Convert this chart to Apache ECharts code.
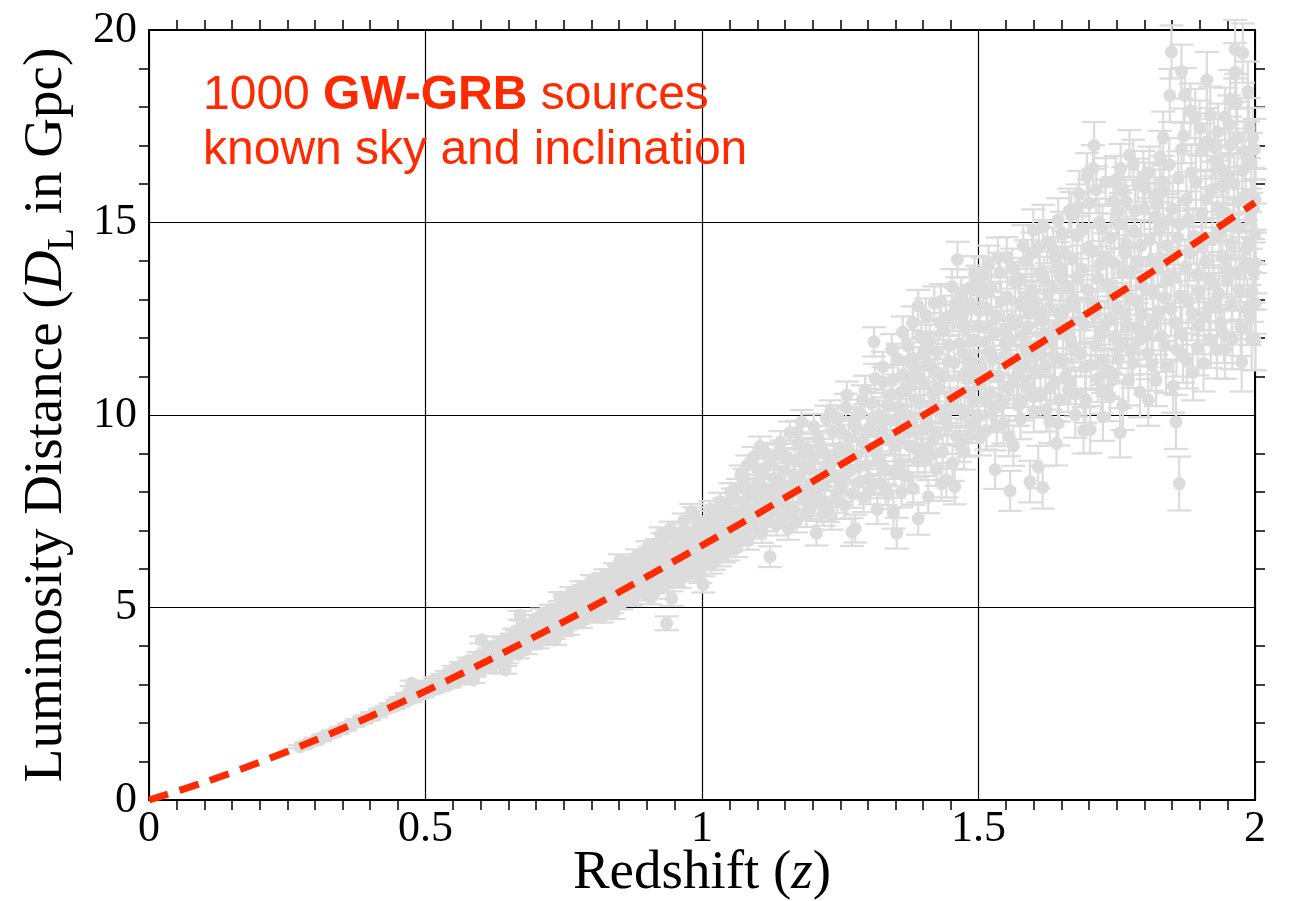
<!DOCTYPE html>
<html><head><meta charset="utf-8">
<script src="https://cdn.jsdelivr.net/npm/echarts@6/dist/echarts.min.js"></script>
<style>html,body{margin:0;padding:0;background:#fff}#c{width:1290px;height:901px}</style>
</head><body><div id="c"></div>
<script>
// ---- Tick labels ----
const xTickLabels = ['0', '0.5', '1', '1.5', '2'];
const yTickLabels = ['0', '5', '10', '15', '20'];

// ---- Fiducial luminosity-distance curve ----
const curveZ = [0, 0.1, 0.2, 0.3, 0.4, 0.5, 0.6, 0.7, 0.8, 0.9, 1.0, 1.1, 1.2, 1.3, 1.4, 1.5, 1.6, 1.7, 1.8, 1.9, 2.0];
const curveD = [0, 0.46, 0.98, 1.55, 2.17, 2.83, 3.53, 4.26, 5.01, 5.80, 6.61, 7.43, 8.27, 9.13, 9.99, 10.87, 11.76, 12.67, 13.59, 14.55, 15.52];

// ---- Simulated GW-GRB sources: [z, D_L (Gpc), 1-sigma error (Gpc)] ----
const sourcesA = [[0.273,1.38,0.04],[0.284,1.45,0.04],[0.291,1.47,0.04],[0.302,1.58,0.04],[0.309,1.57,0.04],[0.318,1.66,0.05],[0.326,1.70,0.04],[0.333,1.76,0.05],[0.341,1.77,0.05],[0.348,1.85,0.05],[0.355,1.86,0.05],[0.362,1.95,0.05],[0.369,1.96,0.05],[0.377,2.05,0.05],[0.384,2.04,0.05],[0.391,2.14,0.05],[0.398,2.13,0.06],[0.404,2.22,0.06],[0.411,2.21,0.06],[0.418,2.31,0.06],[0.425,2.34,0.06],[0.431,2.37,0.06],[0.437,2.45,0.06],[0.443,2.43,0.06],[0.449,2.55,0.06]];
const sourcesB = [[0.452,2.49,0.06],[0.458,2.60,0.06],[0.463,2.57,0.06],[0.468,2.66,0.06],[0.475,3.03,0.07],[0.478,2.68,0.06],[0.483,2.78,0.06],[0.487,2.70,0.06],[0.492,2.86,0.07],[0.497,2.80,0.07],[0.502,2.92,0.07],[0.506,2.82,0.07],[0.511,2.95,0.07],[0.515,2.88,0.07],[0.519,3.05,0.07],[0.524,2.97,0.07],[0.528,3.10,0.07],[0.533,3.02,0.07],[0.537,3.16,0.07],[0.541,3.05,0.07],[0.546,3.25,0.08],[0.550,3.12,0.08],[0.554,3.30,0.08],[0.559,3.18,0.08],[0.563,3.36,0.08],[0.567,3.24,0.08],[0.571,3.44,0.08],[0.576,3.30,0.08],[0.580,3.50,0.08],[0.584,3.36,0.08],[0.587,3.12,0.08],[0.591,3.58,0.08],[0.594,3.42,0.08],[0.598,3.66,0.09],[0.599,3.48,0.09]];
const sourcesC = [[0.601,4.16,0.09],[0.603,3.40,0.09],[0.606,3.62,0.09],[0.609,3.75,0.09],[0.612,3.52,0.09],[0.615,3.85,0.09],[0.618,3.60,0.09],[0.621,3.70,0.09],[0.624,3.95,0.09],[0.627,3.58,0.09],[0.630,3.82,0.10],[0.633,4.02,0.10],[0.636,3.70,0.10],[0.639,3.90,0.10],[0.642,4.10,0.10],[0.644,3.38,0.10],[0.647,3.80,0.10],[0.650,4.05,0.10],[0.653,3.92,0.10],[0.656,4.22,0.10],[0.659,3.85,0.10],[0.662,4.08,0.10],[0.665,4.30,0.10],[0.668,3.95,0.10],[0.671,4.80,0.11],[0.673,4.18,0.11],[0.676,4.40,0.11],[0.679,4.02,0.11],[0.682,4.28,0.11],[0.685,4.52,0.11],[0.688,4.12,0.11],[0.691,4.35,0.11],[0.694,4.60,0.11],[0.697,4.22,0.11],[0.700,4.45,0.11],[0.703,4.05,0.11],[0.706,4.68,0.12],[0.709,4.32,0.12],[0.712,4.55,0.12],[0.716,4.20,0.12],[0.720,4.75,0.12],[0.724,4.42,0.12],[0.728,4.62,0.12],[0.732,4.30,0.12],[0.736,4.85,0.12],[0.740,4.50,0.12],[0.744,4.70,0.12],[0.748,4.38,0.12]];
const sourcesD = [[0.743,5.28,0.12],[0.751,4.95,0.12],[0.754,4.55,0.12],[0.757,4.78,0.13],[0.760,5.10,0.13],[0.763,4.62,0.13],[0.766,4.88,0.13],[0.769,5.22,0.13],[0.772,4.70,0.13],[0.775,4.95,0.13],[0.778,5.35,0.13],[0.781,4.60,0.13],[0.784,5.05,0.13],[0.787,5.45,0.13],[0.790,4.82,0.13],[0.793,5.18,0.14],[0.796,5.55,0.14],[0.799,4.92,0.14],[0.803,4.76,0.14],[0.806,5.30,0.14],[0.809,5.62,0.14],[0.812,5.02,0.14],[0.815,5.40,0.14],[0.818,4.95,0.14],[0.821,5.75,0.14],[0.824,5.15,0.14],[0.827,5.50,0.15],[0.830,5.05,0.15],[0.833,5.85,0.15],[0.836,5.28,0.15],[0.840,4.85,0.15],[0.843,5.62,0.15],[0.846,5.20,0.15],[0.849,5.95,0.15],[0.852,6.23,0.15],[0.855,5.40,0.15],[0.858,5.72,0.15],[0.861,6.03,0.16],[0.864,5.30,0.16],[0.867,5.85,0.16],[0.870,5.52,0.16],[0.873,6.10,0.16],[0.876,5.25,0.16],[0.879,5.68,0.16],[0.882,5.95,0.16],[0.885,5.45,0.16],[0.888,6.22,0.16],[0.891,5.60,0.17],[0.894,5.88,0.17],[0.897,5.35,0.17]];
const sourcesE = [[0.900,6.05,0.17],[0.903,5.55,0.17],[0.906,6.40,0.17],[0.909,5.82,0.17],[0.912,6.15,0.17],[0.915,5.40,0.17],[0.918,6.60,0.18],[0.921,5.95,0.18],[0.924,6.30,0.18],[0.927,5.68,0.18],[0.930,6.75,0.18],[0.933,6.08,0.18],[0.936,4.59,0.18],[0.939,6.45,0.18],[0.942,5.85,0.18],[0.945,5.23,0.19],[0.948,6.22,0.19],[0.951,6.85,0.19],[0.954,5.98,0.19],[0.957,6.55,0.19],[0.960,5.70,0.19],[0.963,6.35,0.19],[0.966,7.00,0.19],[0.969,6.12,0.20],[0.972,6.70,0.20],[0.975,5.88,0.20],[0.978,6.48,0.20],[0.981,7.49,0.20],[0.984,6.25,0.20],[0.987,6.90,0.20],[0.990,6.02,0.20],[0.993,7.15,0.21],[0.996,6.60,0.21],[0.999,6.20,0.21],[1.002,5.60,0.21],[1.005,6.95,0.21],[1.008,6.38,0.21],[1.011,7.30,0.21],[1.014,6.75,0.22],[1.017,6.10,0.22],[1.020,7.05,0.22],[1.023,6.50,0.22],[1.026,7.45,0.22],[1.029,6.85,0.22],[1.032,6.30,0.23],[1.035,7.20,0.23],[1.038,6.62,0.23],[1.041,7.60,0.23],[1.044,7.00,0.23],[1.047,6.45,0.23]];
const sourcesF = [[1.050,7.35,0.23],[1.053,6.70,0.24],[1.056,7.85,0.24],[1.059,7.10,0.24],[1.062,6.55,0.24],[1.065,8.10,0.24],[1.068,7.45,0.24],[1.071,6.88,0.25],[1.074,7.75,0.25],[1.077,8.35,0.25],[1.080,7.20,0.25],[1.083,6.75,0.25],[1.086,7.95,0.25],[1.089,7.40,0.26],[1.093,8.91,0.26],[1.096,7.05,0.26],[1.099,8.20,0.26],[1.102,7.60,0.26],[1.105,9.18,0.26],[1.108,6.95,0.27],[1.111,8.45,0.27],[1.114,7.80,0.27],[1.117,7.25,0.27],[1.120,8.70,0.27],[1.123,6.32,0.27],[1.126,8.05,0.28],[1.129,7.50,0.28],[1.132,8.95,0.28],[1.135,7.15,0.28],[1.138,8.30,0.28],[1.141,7.70,0.28],[1.144,9.05,0.29],[1.147,7.35,0.29],[1.150,8.55,0.29],[1.153,7.95,0.29],[1.156,7.05,0.29],[1.159,9.54,0.29],[1.162,8.20,0.30],[1.165,7.60,0.30],[1.168,8.80,0.30],[1.171,7.25,0.30],[1.174,9.25,0.30],[1.177,8.40,0.30],[1.180,9.82,0.31],[1.183,7.80,0.31],[1.186,8.65,0.31],[1.189,7.40,0.31],[1.192,9.10,0.31],[1.195,8.15,0.31],[1.198,7.62,0.32]];
const sourcesG = [[1.201,8.90,0.32],[1.204,7.95,0.32],[1.207,6.93,0.32],[1.210,9.40,0.32],[1.213,8.45,0.32],[1.216,7.70,0.33],[1.219,9.05,0.33],[1.222,8.20,0.33],[1.225,9.91,0.33],[1.228,7.55,0.33],[1.231,8.75,0.33],[1.234,7.36,0.34],[1.237,9.55,0.34],[1.240,8.40,0.34],[1.243,7.95,0.34],[1.246,9.91,0.34],[1.249,9.15,0.34],[1.252,8.10,0.35],[1.255,8.85,0.35],[1.258,7.65,0.35],[1.262,10.52,0.35],[1.265,9.40,0.35],[1.268,8.55,0.35],[1.271,6.96,0.36],[1.274,9.85,0.36],[1.277,7.05,0.36],[1.280,8.95,0.36],[1.283,8.25,0.36],[1.286,10.04,0.36],[1.289,9.30,0.37],[1.292,7.85,0.37],[1.295,10.65,0.37],[1.298,8.70,0.37],[1.301,9.65,0.37],[1.304,8.05,0.37],[1.307,10.30,0.38],[1.311,11.90,0.38],[1.314,9.05,0.38],[1.317,7.55,0.38],[1.320,10.00,0.38],[1.322,8.22,0.38],[1.325,9.45,0.39],[1.328,10.85,0.39],[1.331,8.60,0.39],[1.334,9.90,0.39],[1.337,7.95,0.39],[1.340,10.50,0.39],[1.343,11.70,0.40],[1.346,7.45,0.40],[1.349,9.20,0.40]];
const sourcesH = [[1.352,6.93,0.40],[1.355,10.20,0.40],[1.358,8.75,0.40],[1.361,8.00,0.40],[1.364,11.05,0.41],[1.367,9.55,0.41],[1.370,10.65,0.41],[1.373,8.40,0.41],[1.376,11.35,0.41],[1.379,9.85,0.41],[1.382,8.09,0.42],[1.382,11.47,0.42],[1.385,10.40,0.42],[1.388,9.10,0.42],[1.391,12.83,0.42],[1.391,7.31,0.42],[1.394,10.95,0.43],[1.397,9.60,0.43],[1.400,11.60,0.43],[1.403,8.85,0.43],[1.406,11.69,0.43],[1.409,7.88,0.43],[1.412,11.90,0.44],[1.415,10.25,0.44],[1.418,9.35,0.44],[1.421,11.15,0.44],[1.424,8.60,0.44],[1.427,10.70,0.44],[1.430,12.40,0.45],[1.433,8.22,0.45],[1.436,12.20,0.45],[1.439,9.90,0.45],[1.442,8.31,0.45],[1.445,11.40,0.45],[1.448,10.50,0.46],[1.452,13.33,0.46],[1.454,12.64,0.46],[1.457,8.14,0.46],[1.460,9.45,0.46],[1.462,14.04,0.46],[1.465,11.85,0.47],[1.468,10.15,0.47],[1.471,12.55,0.47],[1.474,9.05,0.47],[1.477,11.10,0.47],[1.479,12.80,0.47],[1.482,10.60,0.48],[1.485,13.30,0.48],[1.488,9.75,0.48],[1.491,11.95,0.48],[1.494,10.95,0.48],[1.497,13.40,0.48]];
const sourcesI = [[1.500,12.30,0.49],[1.503,13.33,0.49],[1.503,9.44,0.49],[1.506,11.20,0.49],[1.509,13.16,0.49],[1.512,10.40,0.49],[1.515,12.75,0.50],[1.518,13.90,0.50],[1.521,11.65,0.50],[1.524,10.05,0.50],[1.527,12.10,0.50],[1.530,8.58,0.50],[1.533,9.70,0.51],[1.535,14.10,0.51],[1.538,11.00,0.51],[1.541,12.95,0.51],[1.545,9.77,0.51],[1.548,11.85,0.51],[1.551,14.10,0.52],[1.554,10.70,0.52],[1.557,8.03,0.52],[1.560,12.50,0.52],[1.563,9.20,0.52],[1.566,13.45,0.52],[1.569,11.30,0.53],[1.572,10.25,0.53],[1.575,12.85,0.53],[1.578,10.39,0.53],[1.581,14.40,0.53],[1.584,11.75,0.53],[1.586,14.00,0.54],[1.589,12.30,0.54],[1.593,8.27,0.54],[1.596,13.25,0.54],[1.599,14.80,0.54],[1.599,10.47,0.54],[1.602,11.15,0.55],[1.605,12.70,0.55],[1.608,8.65,0.55],[1.611,13.70,0.55],[1.614,11.55,0.55],[1.616,8.12,0.55],[1.617,14.90,0.56],[1.620,12.10,0.56],[1.623,10.13,0.56],[1.626,13.15,0.56],[1.629,9.83,0.56],[1.632,11.90,0.56],[1.635,14.30,0.57],[1.638,10.85,0.57],[1.641,9.26,0.57],[1.644,15.06,0.57],[1.644,9.78,0.57],[1.647,12.60,0.57]];
const sourcesJ = [[1.650,13.55,0.58],[1.653,11.40,0.58],[1.656,14.20,0.58],[1.659,12.15,0.58],[1.662,10.65,0.58],[1.666,10.86,0.58],[1.668,15.20,0.59],[1.671,13.00,0.59],[1.672,11.75,0.59],[1.675,10.00,0.59],[1.678,14.65,0.59],[1.680,15.40,0.59],[1.683,12.45,0.60],[1.686,13.80,0.60],[1.690,9.60,0.60],[1.693,11.25,0.60],[1.696,16.20,0.60],[1.699,14.35,0.60],[1.702,9.62,0.61],[1.705,12.90,0.61],[1.707,16.40,0.61],[1.709,17.00,0.61],[1.712,11.80,0.61],[1.715,13.55,0.61],[1.718,15.00,0.62],[1.722,10.65,0.62],[1.725,9.95,0.62],[1.728,12.35,0.62],[1.731,14.10,0.62],[1.734,11.10,0.62],[1.738,10.47,0.63],[1.741,13.25,0.63],[1.744,15.55,0.63],[1.747,12.00,0.63],[1.750,15.30,0.63],[1.753,11.45,0.63],[1.756,9.54,0.64],[1.757,16.40,0.64],[1.760,13.70,0.64],[1.762,15.80,0.64],[1.765,12.60,0.64],[1.768,14.45,0.64],[1.771,10.90,0.65],[1.774,13.05,0.65],[1.777,11.70,0.65],[1.780,16.50,0.65],[1.783,15.30,0.65],[1.786,12.25,0.65],[1.789,14.00,0.66],[1.792,10.60,0.66],[1.795,13.40,0.66],[1.798,16.20,0.66]];
const sourcesK = [[1.801,15.90,0.66],[1.804,12.10,0.66],[1.807,10.39,0.67],[1.810,14.55,0.67],[1.813,11.30,0.67],[1.816,13.20,0.67],[1.819,15.15,0.67],[1.822,15.50,0.67],[1.825,12.70,0.68],[1.828,16.70,0.68],[1.831,14.05,0.68],[1.834,17.20,0.68],[1.834,15.80,0.68],[1.837,11.80,0.68],[1.840,13.50,0.69],[1.843,15.05,0.69],[1.846,18.30,0.69],[1.849,19.43,0.69],[1.852,10.75,0.69],[1.855,12.40,0.69],[1.857,9.82,0.70],[1.860,14.60,0.70],[1.863,8.22,0.70],[1.865,13.10,0.70],[1.867,18.92,0.70],[1.867,16.90,0.70],[1.870,11.55,0.71],[1.873,18.30,0.71],[1.876,15.60,0.71],[1.879,12.95,0.71],[1.882,14.20,0.71],[1.885,16.30,0.71],[1.888,11.10,0.72],[1.892,17.75,0.72],[1.895,13.65,0.72],[1.898,12.30,0.72],[1.900,17.45,0.72],[1.903,15.20,0.72],[1.907,11.34,0.73],[1.910,14.00,0.73],[1.913,18.70,0.73],[1.916,12.80,0.73],[1.919,17.80,0.73],[1.922,15.85,0.73],[1.925,13.40,0.74],[1.928,16.60,0.74],[1.931,11.69,0.74],[1.933,17.35,0.74],[1.936,14.75,0.74],[1.939,12.40,0.74],[1.942,15.95,0.75],[1.946,11.69,0.75],[1.946,17.75,0.75],[1.949,13.80,0.75],[1.952,16.20,0.75],[1.955,17.00,0.75],[1.955,18.20,0.76],[1.958,12.85,0.76],[1.961,14.90,0.76],[1.964,19.50,0.76],[1.964,18.90,0.76],[1.966,18.10,0.76],[1.969,15.55,0.77],[1.972,13.25,0.77],[1.976,11.38,0.77],[1.978,19.40,0.77],[1.981,16.85,0.77],[1.984,14.30,0.77],[1.987,18.40,0.78],[1.990,12.60,0.78],[1.992,15.10,0.78],[1.994,11.95,0.78],[1.996,17.20,0.78],[1.998,13.70,0.78],[2.000,15.60,0.79],[2.000,14.70,0.79],[2.000,12.90,0.79]];
// second pass over the dense band
const sourcesL = [[0.455,2.62,0.06],[0.466,2.72,0.06],[0.472,2.61,0.06],[0.481,2.84,0.06],[0.489,2.91,0.07],[0.495,2.74,0.07],[0.504,3.00,0.07],[0.509,2.85,0.07],[0.517,3.12,0.07],[0.522,2.90,0.07],[0.531,3.20,0.07],[0.539,3.28,0.07],[0.544,3.00,0.08],[0.552,3.40,0.08],[0.557,3.08,0.08],[0.565,3.50,0.08],[0.573,3.20,0.08],[0.578,3.62,0.08],[0.589,3.30,0.08],[0.596,3.75,0.09],[0.605,3.48,0.09],[0.613,3.95,0.09],[0.619,3.42,0.09],[0.626,3.80,0.09],[0.634,3.55,0.10],[0.641,4.15,0.10],[0.648,3.65,0.10],[0.655,4.00,0.10],[0.661,4.35,0.10],[0.667,3.78,0.10],[0.674,4.55,0.11],[0.681,3.90,0.11],[0.687,4.42,0.11],[0.693,4.05,0.11],[0.699,4.70,0.11],[0.705,4.15,0.11],[0.711,4.85,0.12],[0.718,4.38,0.12],[0.726,4.95,0.12],[0.734,4.15,0.12],[0.741,4.62,0.12],[0.747,5.05,0.12]];
const sourcesM = [[0.752,5.20,0.12],[0.758,4.42,0.13],[0.764,5.40,0.13],[0.771,5.00,0.13],[0.777,4.70,0.13],[0.783,5.55,0.13],[0.789,5.15,0.13],[0.795,4.85,0.14],[0.801,5.70,0.14],[0.807,5.05,0.14],[0.813,5.30,0.14],[0.819,4.75,0.14],[0.825,5.85,0.14],[0.831,5.45,0.15],[0.837,5.00,0.15],[0.842,6.00,0.15],[0.848,5.55,0.15],[0.854,5.10,0.15],[0.859,5.90,0.15],[0.865,6.15,0.16],[0.871,5.20,0.16],[0.877,5.80,0.16],[0.883,6.35,0.16],[0.889,5.40,0.16],[0.895,6.10,0.17],[0.901,6.55,0.17],[0.907,5.25,0.17],[0.913,6.25,0.17],[0.919,5.70,0.18],[0.925,6.90,0.18],[0.931,5.55,0.18],[0.937,6.40,0.18],[0.943,7.05,0.18],[0.949,5.75,0.19],[0.955,6.65,0.19],[0.961,6.10,0.19],[0.967,7.25,0.19],[0.973,5.95,0.20],[0.979,6.85,0.20],[0.985,7.40,0.20],[0.991,6.40,0.20],[0.997,5.85,0.21],[1.003,7.10,0.21],[1.009,6.55,0.21],[1.015,7.55,0.22],[1.021,6.20,0.22],[1.027,6.95,0.22],[1.033,7.75,0.23],[1.039,6.40,0.23],[1.045,7.35,0.23]];
const sourcesN = [[1.052,8.00,0.23],[1.058,7.30,0.24],[1.064,6.85,0.24],[1.070,8.45,0.24],[1.076,7.55,0.25],[1.082,8.70,0.25],[1.088,7.10,0.25],[1.094,7.90,0.26],[1.100,8.60,0.26],[1.106,7.35,0.26],[1.112,8.10,0.27],[1.118,9.00,0.27],[1.124,7.55,0.27],[1.130,8.35,0.28],[1.136,7.85,0.28],[1.142,9.30,0.28],[1.148,8.00,0.29],[1.154,8.85,0.29],[1.160,7.45,0.29],[1.166,8.45,0.30],[1.172,9.55,0.30],[1.178,8.05,0.30],[1.184,9.00,0.31],[1.190,7.75,0.31],[1.196,8.60,0.31],[1.202,9.70,0.32],[1.208,8.15,0.32],[1.214,9.20,0.32],[1.220,7.45,0.33],[1.226,8.60,0.33],[1.232,10.05,0.33],[1.238,8.90,0.34],[1.244,7.80,0.34],[1.250,9.60,0.34],[1.256,8.35,0.35],[1.260,10.20,0.35],[1.266,9.05,0.35],[1.272,7.95,0.36],[1.278,9.70,0.36],[1.284,8.65,0.36],[1.290,10.40,0.37],[1.296,9.15,0.37],[1.302,8.35,0.37],[1.308,9.85,0.38],[1.313,10.95,0.38],[1.318,8.85,0.38],[1.323,9.60,0.38],[1.327,11.25,0.39],[1.332,8.05,0.39],[1.336,10.25,0.39],[1.341,9.35,0.39],[1.345,10.90,0.40],[1.348,8.55,0.40]];
const sourcesO = [[1.351,9.90,0.40],[1.354,11.45,0.40],[1.357,9.35,0.40],[1.360,10.60,0.40],[1.363,12.15,0.41],[1.366,8.45,0.41],[1.369,10.00,0.41],[1.372,11.80,0.41],[1.375,9.20,0.41],[1.378,10.90,0.41],[1.381,12.40,0.42],[1.384,9.65,0.42],[1.387,11.10,0.42],[1.390,8.80,0.42],[1.393,10.30,0.42],[1.396,12.00,0.43],[1.399,9.15,0.43],[1.402,10.80,0.43],[1.405,12.60,0.43],[1.408,9.80,0.43],[1.411,11.30,0.44],[1.414,8.95,0.44],[1.417,10.55,0.44],[1.420,12.90,0.44],[1.423,9.55,0.44],[1.426,11.65,0.44],[1.429,10.10,0.45],[1.432,12.95,0.45],[1.435,9.05,0.45],[1.438,11.00,0.45],[1.441,12.50,0.45],[1.444,9.70,0.45],[1.447,11.80,0.46],[1.450,10.25,0.46],[1.453,8.75,0.46],[1.456,11.35,0.46],[1.459,12.85,0.46],[1.463,10.55,0.47],[1.466,9.25,0.47],[1.469,13.10,0.47],[1.472,11.60,0.47],[1.475,10.05,0.47],[1.478,12.25,0.47],[1.481,9.40,0.48],[1.484,11.40,0.48],[1.487,12.90,0.48],[1.490,10.35,0.48],[1.493,13.65,0.48],[1.496,11.15,0.48],[1.499,9.95,0.49],[1.502,12.70,0.49],[1.505,10.85,0.49],[1.508,13.60,0.49],[1.511,11.90,0.49],[1.514,9.60,0.50],[1.517,12.30,0.50],[1.520,10.60,0.50],[1.523,13.30,0.50],[1.526,11.45,0.50],[1.529,10.20,0.50],[1.532,12.55,0.51],[1.536,11.00,0.51],[1.539,13.70,0.51],[1.542,10.35,0.51],[1.546,12.20,0.51],[1.549,11.55,0.51],[1.552,13.05,0.52],[1.555,9.45,0.52],[1.558,11.95,0.52],[1.561,13.80,0.52],[1.564,10.90,0.52],[1.567,12.35,0.53],[1.570,11.05,0.53],[1.573,13.55,0.53],[1.576,9.90,0.53],[1.579,12.05,0.53],[1.582,11.25,0.53],[1.585,13.05,0.54],[1.588,10.75,0.54],[1.591,12.65,0.54],[1.594,11.50,0.54],[1.597,14.20,0.54],[1.600,10.10,0.55],[1.603,12.95,0.55],[1.606,11.80,0.55],[1.609,14.35,0.55],[1.612,10.50,0.55],[1.615,12.45,0.55],[1.618,13.55,0.56],[1.621,11.25,0.56],[1.624,14.50,0.56],[1.627,12.80,0.56],[1.630,10.70,0.56],[1.633,13.30,0.56],[1.636,11.55,0.57],[1.639,14.05,0.57],[1.642,12.30,0.57],[1.646,10.40,0.57],[1.649,13.80,0.57]];
const sourcesP = [[1.651,14.70,0.58],[1.654,12.70,0.58],[1.657,11.00,0.58],[1.660,13.35,0.58],[1.664,15.30,0.58],[1.667,11.95,0.58],[1.670,14.05,0.59],[1.673,12.80,0.59],[1.676,10.55,0.59],[1.679,13.60,0.59],[1.682,15.75,0.59],[1.685,11.60,0.60],[1.688,14.80,0.60],[1.691,12.35,0.60],[1.694,10.40,0.60],[1.697,13.25,0.60],[1.700,15.50,0.61],[1.703,11.30,0.61],[1.706,14.25,0.61],[1.710,12.60,0.61],[1.713,15.85,0.61],[1.716,10.95,0.61],[1.719,13.90,0.62],[1.721,12.15,0.62],[1.724,14.85,0.62],[1.727,11.40,0.62],[1.730,16.05,0.62],[1.733,13.40,0.62],[1.736,12.45,0.63],[1.739,14.60,0.63],[1.742,11.05,0.63],[1.745,13.95,0.63],[1.748,16.10,0.63],[1.751,12.80,0.63],[1.754,14.95,0.64],[1.758,11.85,0.64],[1.761,10.25,0.64],[1.764,14.20,0.64],[1.767,15.55,0.64],[1.770,12.30,0.65],[1.773,16.75,0.65],[1.776,13.75,0.65],[1.779,11.35,0.65],[1.782,14.75,0.65],[1.785,12.95,0.65],[1.788,16.00,0.66],[1.791,11.95,0.66],[1.794,14.40,0.66],[1.797,12.60,0.66],[1.800,15.35,0.66],[1.803,13.25,0.66],[1.806,11.60,0.67],[1.809,16.30,0.67],[1.812,14.00,0.67],[1.815,12.35,0.67],[1.818,15.70,0.67],[1.821,10.90,0.67],[1.824,13.80,0.68],[1.827,14.85,0.68],[1.830,12.05,0.68],[1.833,16.05,0.68],[1.836,13.05,0.68],[1.839,11.25,0.68],[1.842,14.40,0.69],[1.845,16.50,0.69],[1.848,12.75,0.69],[1.851,15.35,0.69],[1.854,13.60,0.69],[1.858,11.70,0.70],[1.861,16.15,0.70],[1.864,14.95,0.70],[1.868,12.10,0.70],[1.871,17.25,0.71],[1.874,13.85,0.71],[1.877,11.40,0.71],[1.880,15.10,0.71],[1.883,17.90,0.71],[1.886,12.65,0.71],[1.889,14.65,0.72],[1.893,16.05,0.72],[1.896,11.75,0.72],[1.899,13.20,0.72],[1.902,16.85,0.72],[1.905,14.35,0.72],[1.908,12.55,0.73],[1.911,15.60,0.73],[1.914,17.10,0.73],[1.917,13.50,0.73],[1.920,11.95,0.73],[1.923,14.55,0.73],[1.926,16.95,0.74],[1.929,12.95,0.74],[1.932,15.40,0.74],[1.935,13.15,0.74],[1.938,16.40,0.74],[1.941,14.10,0.74],[1.944,12.10,0.75],[1.947,15.25,0.75],[1.950,13.50,0.75],[1.953,17.55,0.75],[1.956,14.45,0.75],[1.959,11.95,0.76],[1.962,16.00,0.76],[1.965,13.70,0.76],[1.968,17.20,0.76],[1.971,14.85,0.77],[1.974,12.30,0.77],[1.977,16.35,0.77],[1.980,13.85,0.77],[1.983,15.70,0.77],[1.986,12.75,0.78],[1.989,17.45,0.78],[1.991,14.50,0.78],[1.993,16.55,0.78],[1.995,13.20,0.78],[1.997,15.35,0.78],[1.999,16.90,0.79],[2.000,13.95,0.79],[2.000,11.95,0.79]];

const sources = [].concat(sourcesA, sourcesB, sourcesC, sourcesD, sourcesE, sourcesF, sourcesG, sourcesH, sourcesI, sourcesJ, sourcesK,
  sourcesL, sourcesM, sourcesN, sourcesO, sourcesP);
const curveData = curveZ.map((z, i) => [z, curveD[i]]);

const GREY = '#dcdcdc';
const RED = '#ff2a00';
const SERIF = '"Liberation Serif","Times New Roman",serif';
const SANS = '"Liberation Sans",Arial,sans-serif';

const chart = echarts.init(document.getElementById('c'), null, { renderer: 'canvas' });

const frameX = (pos, labels) => ({
  type: 'value', min: 0, max: 2, interval: 0.5, position: pos,
  axisLine: { show: true, onZero: false, lineStyle: { color: '#000', width: 2 } },
  axisTick: { show: false },
  minorTick: { show: true, splitNumber: 10, length: 10, lineStyle: { color: '#000', width: 1.5 } },
  splitLine: { show: pos === 'bottom', lineStyle: { color: '#000', width: 1.2 } },
  minorSplitLine: { show: false },
  axisLabel: labels ? { show: true, fontFamily: SERIF, fontSize: 44, color: '#000', margin: 7,
    formatter: (v) => xTickLabels[Math.round(v / 0.5)] } : { show: false }
});
const frameY = (pos, labels) => ({
  type: 'value', min: 0, max: 20, interval: 5, position: pos,
  axisLine: { show: true, onZero: false, lineStyle: { color: '#000', width: 2 } },
  axisTick: { show: false },
  minorTick: { show: true, splitNumber: 5, length: 10, lineStyle: { color: '#000', width: 1.5 } },
  splitLine: { show: pos === 'left', lineStyle: { color: '#000', width: 1.2 } },
  minorSplitLine: { show: false },
  axisLabel: labels ? { show: true, fontFamily: SERIF, fontSize: 44, color: '#000', margin: 12,
    formatter: (v) => yTickLabels[Math.round(v / 5)] } : { show: false }
});

const xBottom = frameX('bottom', true);
const yLeft = Object.assign(frameY('left', true), {
  name: '{a|Luminosity Distance (}{i|D}{s|L}{a| in Gpc)}', nameLocation: 'middle', nameGap: 48,
  nameTextStyle: { fontFamily: SERIF, fontSize: 55, color: '#000',
    rich: {
      a: { fontFamily: SERIF, fontSize: 55, color: '#000', lineHeight: 72 },
      i: { fontFamily: SERIF, fontSize: 55, fontStyle: 'italic', color: '#000', lineHeight: 72 },
      s: { fontFamily: SERIF, fontSize: 37, color: '#000', lineHeight: 37, verticalAlign: 'bottom' }
    } }
});

chart.setOption({
  animation: false,
  backgroundColor: '#fff',
  grid: { left: 149, top: 30, width: 1106, height: 770, containLabel: false, outerBoundsMode: 'none' },
  xAxis: [xBottom, frameX('top', false)],
  yAxis: [yLeft, frameY('right', false)],
  graphic: [{
    type: 'text', left: 203, top: 72, z: 100,
    style: {
      text: '{n|1000 }{b|GW-GRB}{n| sources}\n{n|known sky and inclination}',
      rich: {
        n: { fontFamily: SANS, fontSize: 48, fill: RED, lineHeight: 55 },
        b: { fontFamily: SANS, fontSize: 48, fontWeight: 'bold', fill: RED, lineHeight: 55 }
      }
    }
  }, {
    type: 'text', x: 702, y: 874, z: 100,
    style: {
      text: '{a|Redshift (}{i|z}{a|)}',
      align: 'center', verticalAlign: 'middle',
      rich: {
        a: { fontFamily: SERIF, fontSize: 55, fill: '#000' },
        i: { fontFamily: SERIF, fontSize: 55, fontStyle: 'italic', fill: '#000' }
      }
    }
  }],
  series: [
    {
      type: 'custom', xAxisIndex: 0, yAxisIndex: 0, clip: false, z: 2,
      data: sources,
      encode: { x: 0, y: 1 },
      renderItem: function (params, api) {
        const z = api.value(0), d = api.value(1), e = api.value(2);
        const top = api.coord([z, d + e]);
        const bot = api.coord([z, d - e]);
        const hw = 12;
        const st = { stroke: GREY, lineWidth: 2.2, fill: null };
        return {
          type: 'group',
          children: [
            { type: 'line', shape: { x1: top[0], y1: top[1], x2: bot[0], y2: bot[1] }, style: st },
            { type: 'line', shape: { x1: top[0] - hw, y1: top[1], x2: top[0] + hw, y2: top[1] }, style: st },
            { type: 'line', shape: { x1: bot[0] - hw, y1: bot[1], x2: bot[0] + hw, y2: bot[1] }, style: st }
          ]
        };
      }
    },
    {
      type: 'scatter', xAxisIndex: 0, yAxisIndex: 0, clip: false, z: 3,
      data: sources.map(s => [s[0], s[1]]),
      symbol: 'circle', symbolSize: 13,
      itemStyle: { color: GREY, opacity: 1 },
      emphasis: { disabled: true },
      large: false
    },
    {
      type: 'line', xAxisIndex: 0, yAxisIndex: 0, z: 5, clip: false,
      data: curveData, smooth: 0.3, showSymbol: false, symbol: 'none',
      lineStyle: { color: RED, width: 7, type: [20, 12], cap: 'butt' },
      emphasis: { disabled: true }
    }
  ]
});
</script></body></html>
